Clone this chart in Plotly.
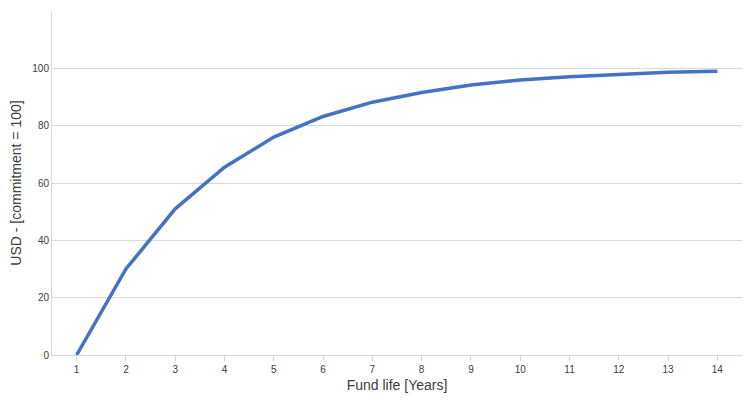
import plotly.graph_objects as go

years = [str(i) for i in range(1, 15)]
values = [0, 30, 51, 65.5, 76, 83.2, 88.2, 91.6, 94.2, 95.9, 97.1, 97.9, 98.6, 99.0]

fig = go.Figure()
fig.add_trace(go.Scatter(x=years, y=values, mode="lines",
                         line=dict(color="#4472C4", width=3.5)))

fig.update_layout(
    width=752, height=405,
    margin=dict(l=44, r=18, t=3, b=58),
    plot_bgcolor="white", paper_bgcolor="white",
    font=dict(family="Liberation Sans, Arial", color="#404040"),
    showlegend=False,
)
fig.update_xaxes(type="category", range=[-0.5, 13.5], showgrid=False,
                 showline=True, linecolor="#d9d9d9",
                 ticks="outside", ticklen=5, tickcolor="#d9d9d9",
                 tickfont=dict(size=10),
                 title=dict(text="Fund life [Years]", font=dict(size=14), standoff=6))
fig.update_yaxes(range=[0, 120], dtick=20, gridcolor="#d9d9d9",
                 showline=True, linecolor="#d9d9d9", zeroline=False,
                 tickfont=dict(size=10),
                 title=dict(text="USD - [commitment = 100]", font=dict(size=14), standoff=8))

fig.write_html("out.html")
